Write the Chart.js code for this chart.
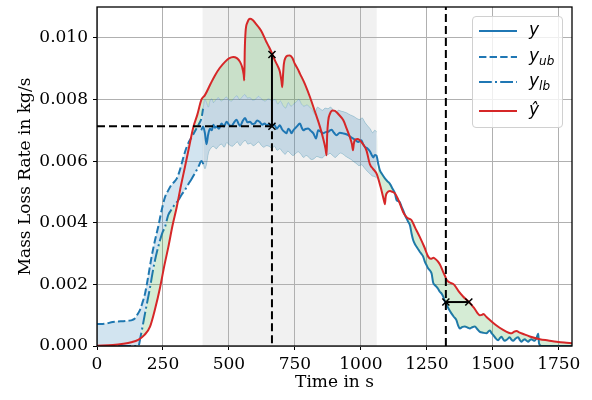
<!DOCTYPE html>
<html>
<head>
<meta charset="utf-8">
<script src="https://cdn.jsdelivr.net/npm/chart.js@4.4.1/dist/chart.umd.min.js"></script>
<style>
    body { margin: 0; background: #fff; }
    #wrap { position: relative; width: 592px; height: 400px; }
    #legend {
        position: absolute; left: 472px; top: 16px; width: 89px; height: 110px;
        border: 1px solid #d0d0d0; border-radius: 4px; background: rgba(255,255,255,0.8);
        font-family: 'DejaVu Sans'; font-style: italic; font-size: 17px; color: #000;
    }
    .row { position: absolute; left: 0; width: 89px; height: 20px; }
    .row svg { position: absolute; left: 6px; top: 0; }
    .row span { position: absolute; left: 56px; top: -2px; line-height: 20px; white-space: nowrap; }
    .row sub { font-size: 12px; vertical-align: -4px; }
</style>
</head>
<body>
<div id="wrap">
    <canvas id="grafica" width="592" height="400"></canvas>
    <div id="legend">
        <div class="row" style="top:4px"><svg width="40" height="20"><line x1="0" y1="10" x2="38" y2="10" stroke="#1f77b4" stroke-width="2"/></svg><span>y</span></div>
        <div class="row" style="top:30px"><svg width="40" height="20"><line x1="0" y1="10" x2="38" y2="10" stroke="#1f77b4" stroke-width="2" stroke-dasharray="7.4,3.2"/></svg><span>y<sub>ub</sub></span></div>
        <div class="row" style="top:55px"><svg width="40" height="20"><line x1="0" y1="10" x2="38" y2="10" stroke="#1f77b4" stroke-width="2" stroke-dasharray="12.8,3.2,2,3.2"/></svg><span>y<sub>lb</sub></span></div>
        <div class="row" style="top:84px"><svg width="40" height="20"><line x1="0" y1="10" x2="38" y2="10" stroke="#d62728" stroke-width="2"/></svg><span>ŷ</span></div>
    </div>
</div>
<script>
// valores: [tiempo s, kg/s]
const yMedido = [
    [395,0.00700],[402,0.00712],[409,0.00690],[415,0.00655],[421,0.00685],[428,0.00705],[435,0.00700],
    [441,0.00718],[447,0.00708],[453,0.00712],[462,0.00705],[472,0.00722],[481,0.00712],[491,0.00728],
    [500,0.00718],[510,0.00714],[519,0.00725],[529,0.00734],[536,0.00722],[542,0.00714],[551,0.00728],
    [561,0.00740],[570,0.00726],[580,0.00728],[589,0.00720],[598,0.00722],[607,0.00732],[617,0.00727],
    [626,0.00718],[635,0.00722],[643,0.00716],[652,0.00720],[663,0.00713],[672,0.00718],[681,0.00705],
    [688,0.00712],[693,0.00716],[700,0.00705],[706,0.00698],[712,0.00694],[718,0.00690],[725,0.00705],
    [731,0.00700],[737,0.00690],[744,0.00700],[756,0.00711],[769,0.00722],[776,0.00708],[782,0.00700],
    [790,0.00704],[800,0.00706],[810,0.00698],[820,0.00690],[830,0.00673],[838,0.00700],[847,0.00696],
    [857,0.00690],[866,0.00694],[876,0.00695],[883,0.00700],[889,0.00702],[898,0.00692],[908,0.00684],
    [920,0.00692],[933,0.00690],[942,0.00688],[952,0.00684],[962,0.00678],[971,0.00673],[980,0.00668],
    [990,0.00662],[1002,0.00668],[1008,0.00656],[1015,0.00646],[1024,0.00642],[1034,0.00632],[1041,0.00620],
    [1047,0.00612],[1053,0.00620],[1059,0.00618],[1066,0.00590],[1072,0.00570],[1080,0.00558],[1091,0.00544],
    [1100,0.00535],[1110,0.00526],[1120,0.00510],[1129,0.00495],[1135,0.00474],[1142,0.00470],[1148,0.00466],
    [1154,0.00452],[1160,0.00441],[1167,0.00425],[1173,0.00414],[1180,0.00402],[1186,0.00392],[1192,0.00365],
    [1198,0.00344],[1205,0.00330],[1211,0.00322],[1217,0.00314],[1223,0.00306],[1230,0.00298],[1236,0.00290],
    [1243,0.00272],[1249,0.00262],[1255,0.00252],[1262,0.00245],[1268,0.00235],[1274,0.00205],[1280,0.00198],
    [1287,0.00192],[1293,0.00185],[1299,0.00176],[1306,0.00170],[1312,0.00160],[1318,0.00145],[1324,0.00135],
    [1333,0.00120],[1343,0.00106],[1352,0.00095],[1362,0.00084],[1368,0.00068],[1375,0.00057],[1385,0.00062],
    [1394,0.00063],[1404,0.00060],[1413,0.00057],[1422,0.00061],[1432,0.00063],[1441,0.00055],[1451,0.00046],
    [1463,0.00043],[1476,0.00041],[1483,0.00047],[1489,0.00050],[1495,0.00042],[1501,0.00036],[1510,0.00026],
    [1520,0.00019],[1527,0.00026],[1533,0.00030],[1539,0.00022],[1545,0.00017],[1555,0.00022],[1564,0.00028],
    [1570,0.00021],[1577,0.00017],[1586,0.00024],[1596,0.00028],[1602,0.00020],[1608,0.00014],[1615,0.00019],
    [1621,0.00022],[1628,0.00017],[1634,0.00014],[1640,0.00019],[1646,0.00022],[1652,0.00019],[1659,0.00017],
    [1665,0.00025],[1672,0.00040],[1675,0.00009],[1684,0.00000],[1800,0.00000]
];

const yPred = [
    [0,0.00001],[60,0.00003],[100,0.00007],[130,0.00012],[156,0.00020],[180,0.00036],[201,0.00063],
    [220,0.00120],[239,0.00190],[255,0.00260],[270,0.00320],[286,0.00390],[302,0.00450],[318,0.00520],
    [333,0.00580],[350,0.00650],[365,0.00710],[380,0.00750],[396,0.00800],[409,0.00814],[430,0.00850],
    [447,0.00878],[465,0.00902],[485,0.00922],[500,0.00933],[516,0.00938],[530,0.00934],[542,0.00922],
    [550,0.00905],[556,0.00880],[558,0.00862],[560,0.00960],[563,0.01020],[570,0.01050],[580,0.01062],
    [590,0.01058],[600,0.01048],[612,0.01035],[624,0.01020],[640,0.00990],[652,0.00970],[664,0.00948],
    [675,0.00925],[685,0.00908],[693,0.00890],[699,0.00860],[702,0.00840],[705,0.00880],[708,0.00915],
    [714,0.00935],[722,0.00942],[731,0.00943],[740,0.00935],[750,0.00915],[760,0.00900],[769,0.00884],
    [788,0.00850],[807,0.00808],[826,0.00760],[845,0.00711],[858,0.00670],[866,0.00640],[870,0.00619],
    [872,0.00680],[876,0.00730],[883,0.00754],[893,0.00764],[902,0.00763],[915,0.00752],[933,0.00733],
    [945,0.00708],[958,0.00678],[966,0.00655],[970,0.00635],[973,0.00655],[977,0.00668],[986,0.00672],
    [996,0.00668],[1008,0.00655],[1021,0.00635],[1034,0.00590],[1046,0.00575],[1059,0.00560],[1075,0.00515],
    [1088,0.00470],[1091,0.00460],[1094,0.00485],[1100,0.00498],[1110,0.00503],[1120,0.00500],[1129,0.00495],
    [1145,0.00468],[1160,0.00435],[1173,0.00418],[1179,0.00414],[1186,0.00412],[1192,0.00408],[1205,0.00385],
    [1223,0.00354],[1240,0.00322],[1255,0.00290],[1265,0.00283],[1275,0.00286],[1280,0.00284],[1290,0.00276],
    [1299,0.00265],[1312,0.00240],[1320,0.00225],[1324,0.00216],[1337,0.00206],[1350,0.00201],[1356,0.00196],
    [1370,0.00178],[1388,0.00160],[1409,0.00143],[1430,0.00122],[1451,0.00100],[1458,0.00101],[1464,0.00104],
    [1476,0.00094],[1489,0.00084],[1510,0.00069],[1539,0.00052],[1560,0.00043],[1571,0.00041],[1580,0.00046],
    [1590,0.00049],[1600,0.00044],[1615,0.00039],[1640,0.00031],[1678,0.00022],[1710,0.00018],[1741,0.00014],
    [1770,0.00011],[1800,0.00009]
];

const yUb = [
    [0,0.00071],[30,0.00072],[60,0.00078],[90,0.00080],[119,0.00082],[135,0.00085],[144,0.00090],[155,0.00105],
    [163,0.00117],[172,0.00140],[182,0.00170],[194,0.00225],[207,0.00290],[220,0.00344],[232,0.00387],
    [245,0.00441],[258,0.00484],[270,0.00505],[277,0.00516],[290,0.00530],[302,0.00543],[312,0.00565],
    [321,0.00592],[330,0.00620],[340,0.00646],[350,0.00665],[359,0.00678],[368,0.00692],[377,0.00706],
    [386,0.00720],[396,0.00740],[402,0.00770],[409,0.00800],[415,0.00790],[422,0.00775],[428,0.00795],
    [435,0.00802],[441,0.00790],[450,0.00798],[460,0.00806],[470,0.00795],[480,0.00800],[490,0.00808],
    [500,0.00798],[510,0.00795],[520,0.00805],[530,0.00812],[540,0.00800],[550,0.00808],[560,0.00816],
    [570,0.00805],[580,0.00806],[590,0.00798],[600,0.00800],[612,0.00810],[625,0.00800],[637,0.00795],
    [650,0.00802],[663,0.00795],[675,0.00800],[685,0.00785],[695,0.00795],[705,0.00780],[715,0.00772],
    [725,0.00790],[735,0.00778],[745,0.00785],[755,0.00792],[765,0.00800],[775,0.00785],[785,0.00778],
    [795,0.00782],[805,0.00776],[815,0.00768],[825,0.00752],[835,0.00775],[845,0.00770],[855,0.00765],
    [865,0.00772],[875,0.00770],[885,0.00775],[895,0.00766],[905,0.00758],[915,0.00765],[925,0.00762],
    [935,0.00760],[945,0.00757],[955,0.00752],[965,0.00748],[975,0.00744],[985,0.00738],[995,0.00735],
    [1005,0.00740],[1015,0.00726],[1025,0.00715],[1035,0.00705],[1045,0.00692],[1052,0.00700],[1060,0.00695]
];

const yLb = [
    [0,0],[157,0],[165,0.00030],[172,0.00060],[182,0.00106],[192,0.00150],[201,0.00190],[210,0.00235],
    [220,0.00279],[230,0.00315],[239,0.00344],[248,0.00368],[258,0.00387],[270,0.00425],[280,0.00440],
    [289,0.00452],[299,0.00463],[308,0.00473],[320,0.00490],[333,0.00506],[346,0.00525],[359,0.00543],
    [372,0.00562],[384,0.00581],[396,0.00600],[403,0.00590],[409,0.00575],[415,0.00590],[422,0.00625],
    [430,0.00640],[441,0.00648],[452,0.00640],[462,0.00650],[472,0.00655],[482,0.00645],[492,0.00660],
    [502,0.00652],[512,0.00648],[522,0.00655],[532,0.00662],[542,0.00650],[552,0.00660],[562,0.00667],
    [572,0.00655],[582,0.00658],[592,0.00650],[602,0.00655],[612,0.00662],[622,0.00652],[632,0.00645],
    [642,0.00650],[652,0.00648],[663,0.00642],[673,0.00648],[683,0.00635],[693,0.00640],[703,0.00630],
    [713,0.00622],[723,0.00632],[733,0.00625],[743,0.00618],[753,0.00625],[763,0.00630],[773,0.00622],
    [783,0.00612],[793,0.00618],[803,0.00612],[813,0.00605],[823,0.00608],[833,0.00615],[843,0.00612],
    [853,0.00610],[863,0.00618],[873,0.00620],[883,0.00625],[893,0.00618],[903,0.00612],[913,0.00620],
    [923,0.00626],[933,0.00622],[943,0.00615],[953,0.00610],[963,0.00605],[973,0.00598],[983,0.00592],
    [993,0.00585],[1003,0.00588],[1013,0.00578],[1023,0.00568],[1033,0.00560],[1043,0.00552],[1052,0.00550],
    [1060,0.00545]
];

const zonaGris = [400, 1060];          // ventana sombreada (s)
const picoT = 663, picoMedido = 0.00713, picoPred = 0.00946;
const nivelT = 0.001426, tMedido = 1322, tPred = 1409;

const xTicks = [0, 250, 500, 750, 1000, 1250, 1500, 1750];
const yTicks = [0, 0.002, 0.004, 0.006, 0.008, 0.010];

const AZUL = '#1f77b4';
const ROJO = '#d62728';
const VERDE = 'rgba(44,160,44,0.2)';
const BANDA = 'rgba(31,119,180,0.2)';
const fuente = { family: 'DejaVu Serif', size: 17 };

function pts(arr) {
    return arr.map(p => ({ x: p[0], y: p[1] }));
}

function main() {
    const ctx = document.getElementById('grafica').getContext('2d');

    // envolventes: banda hasta 1060 s, despues la medicion
    const finBanda = zonaGris[1];
    const envSup = yUb.concat(yMedido.filter(p => p[0] > finBanda));
    const envInf = yLb.concat(yMedido.filter(p => p[0] > finBanda));

    const fueraZona = c => c.p0.parsed.x >= zonaGris[0];

    const base = { pointRadius: 0, tension: 0, borderWidth: 2 };
    const curva = { ...base, cubicInterpolationMode: 'monotone' };

    const datasets = [
        // 0 error del pico
        { data: [{ x: picoT, y: picoMedido }, { x: picoT, y: picoPred }], borderColor: '#000', borderWidth: 2,
          pointStyle: 'crossRot', pointRadius: 5, pointBorderWidth: 1.5, pointBorderColor: '#000', fill: false },
        // 1 error de tiempo
        { data: [{ x: tMedido, y: nivelT }, { x: tPred, y: nivelT }], borderColor: '#000', borderWidth: 2,
          pointStyle: 'crossRot', pointRadius: 5, pointBorderWidth: 1.5, pointBorderColor: '#000', fill: false },
        // 2 referencia del pico
        { ...base, data: [{ x: 0, y: picoMedido }, { x: picoT, y: picoMedido }, { x: picoT, y: 0 }],
          borderColor: '#000', borderDash: [8, 4], fill: false },
        // 3 referencia de tiempo
        { ...base, data: [{ x: tMedido, y: 0 }, { x: tMedido, y: 0.011 }], borderColor: '#000', borderDash: [8, 4], fill: false },
        // 4 prediccion, verde por encima
        { ...curva, data: pts(yPred), borderColor: ROJO, fill: { target: 8, above: VERDE, below: 'transparent' } },
        // 5 prediccion, verde por debajo
        { ...curva, data: pts(yPred), borderColor: 'transparent', borderWidth: 0, fill: { target: 9, above: 'transparent', below: VERDE } },
        // 6 medicion
        { ...curva, data: pts(yMedido), borderColor: AZUL, fill: false },
        // 7 limite superior
        { ...curva, data: pts(yUb), borderColor: AZUL, borderDash: [7.4, 3.2],
          fill: { target: 10, above: BANDA, below: BANDA },
          segment: {
              borderColor: c => fueraZona(c) ? 'rgba(31,119,180,0.25)' : AZUL,
              borderDash: c => fueraZona(c) ? [] : [7.4, 3.2],
              borderWidth: c => fueraZona(c) ? 1 : 2
          } },
        // 8 envolvente sup (oculta)
        { ...curva, data: pts(envSup), borderColor: 'transparent', borderWidth: 0, fill: false },
        // 9 envolvente inf (oculta)
        { ...curva, data: pts(envInf), borderColor: 'transparent', borderWidth: 0, fill: false },
        // 10 limite inferior
        { ...curva, data: pts(yLb), borderColor: AZUL, borderDash: [12.8, 3.2, 2, 3.2], fill: false,
          segment: {
              borderColor: c => fueraZona(c) ? 'rgba(31,119,180,0.25)' : AZUL,
              borderDash: c => fueraZona(c) ? [] : [12.8, 3.2, 2, 3.2],
              borderWidth: c => fueraZona(c) ? 1 : 2
          } }
    ];

    const zonaPlugin = {
        id: 'zona',
        beforeDraw(chart) {
            const { ctx, chartArea, scales } = chart;
            const x0 = scales.x.getPixelForValue(zonaGris[0]);
            const x1 = scales.x.getPixelForValue(zonaGris[1]);
            ctx.save();
            ctx.fillStyle = '#f1f1f1';
            ctx.fillRect(x0, chartArea.top, x1 - x0, chartArea.bottom - chartArea.top);
            ctx.restore();
        },
        afterDraw(chart) {
            const { ctx, chartArea } = chart;
            ctx.save();
            ctx.strokeStyle = '#000';
            ctx.lineWidth = 1.3;
            ctx.strokeRect(chartArea.left, chartArea.top, chartArea.right - chartArea.left, chartArea.bottom - chartArea.top);
            ctx.restore();
        }
    };

    new Chart(ctx, {
        type: 'line',
        data: { datasets: datasets },
        plugins: [zonaPlugin],
        options: {
            responsive: false,
            animation: false,
            devicePixelRatio: 1,
            layout: { padding: { top: 7, right: 20, left: 0, bottom: 0 } },
            plugins: { legend: { display: false }, tooltip: { enabled: false } },
            scales: {
                x: {
                    type: 'linear', min: 0, max: 1800,
                    afterFit: s => { s.height = 54; s.paddingLeft = 0; s.paddingRight = 0; },
                    afterBuildTicks: s => { s.ticks = xTicks.map(v => ({ value: v })); },
                    ticks: { font: fuente, color: '#000', padding: 4, maxRotation: 0, autoSkip: false, callback: v => v },
                    grid: { color: '#b0b0b0', lineWidth: 1, tickColor: '#000', tickLength: 4 },
                    border: { display: false },
                    title: { display: true, text: 'Time in s', font: fuente, color: '#000', padding: { top: 0, bottom: 7 } }
                },
                y: {
                    type: 'linear', min: 0, max: 0.011,
                    afterFit: s => { s.width = 97; s.paddingTop = 0; s.paddingBottom = 0; },
                    afterBuildTicks: s => { s.ticks = yTicks.map(v => ({ value: v })); },
                    ticks: { font: fuente, color: '#000', padding: 5, autoSkip: false, callback: v => v.toFixed(3) },
                    grid: { color: '#b0b0b0', lineWidth: 1, tickColor: '#000', tickLength: 4 },
                    border: { display: false },
                    title: { display: true, text: 'Mass Loss Rate in kg/s', font: fuente, color: '#000', padding: { top: 15, bottom: 0 } }
                }
            }
        }
    });
}

document.addEventListener('DOMContentLoaded', function() {
    main();
});
</script>
</body>
</html>
